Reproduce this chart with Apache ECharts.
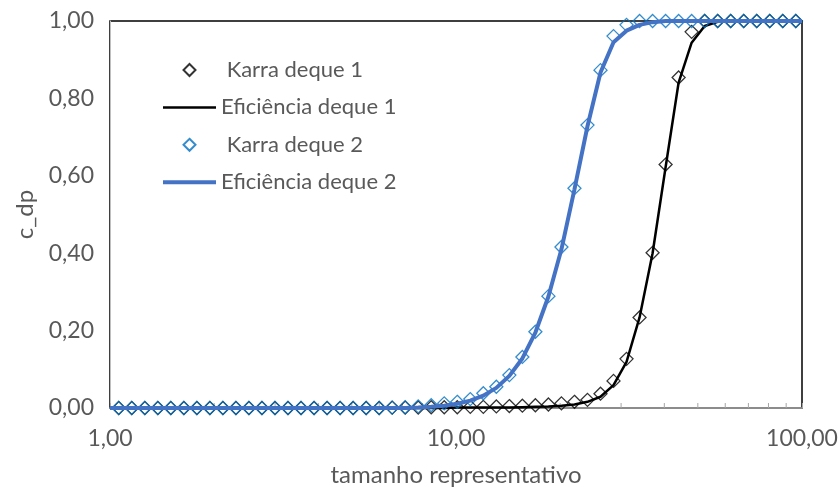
<!DOCTYPE html>
<html>
<head>
<meta charset="utf-8">
<script src="https://cdn.jsdelivr.net/npm/echarts@6/dist/echarts.min.js"></script>
<style>
html,body{margin:0;padding:0;background:#fff;}
#chart{width:838px;height:491px;}
</style>
</head>
<body>
<div id="chart"></div>
<script>
// Sizes (tamanho representativo) for the Karra points
var sizes = [1.060, 1.156, 1.261, 1.375, 1.499, 1.635, 1.783, 1.944, 2.120, 2.312,
  2.521, 2.749, 2.998, 3.269, 3.565, 3.888, 4.240, 4.624, 5.042, 5.499,
  5.997, 6.539, 7.131, 7.777, 8.480, 9.248, 10.085, 10.998, 11.993, 13.079,
  14.263, 15.554, 16.961, 18.497, 20.171, 21.997, 23.988, 26.159, 28.527, 31.109,
  33.925, 36.996, 40.344, 43.996, 47.979, 52.322, 57.057, 62.221, 67.853, 73.994,
  80.692, 87.995, 95.960];

var karra1 = [0,0,0,0,0,0,0,0,0,0,
  0,0,0,0,0,0,0,0,0,0,
  0,0.001,0.001,0.001,0.002,0.002,0.002,0.003,0.003,0.004,
  0.005,0.006,0.007,0.009,0.012,0.016,0.021,0.037,0.070,0.127,
  0.234,0.401,0.629,0.854,0.972,1,1,1,1,1,
  1,1,1];

var karra2 = [0,0,0,0,0,0,0,0,0,0,
  0,0,0,0,0,0,0,0,0,0,
  0,0.001,0.002,0.004,0.007,0.012,0.016,0.023,0.038,0.055,
  0.085,0.132,0.197,0.289,0.416,0.568,0.731,0.873,0.961,0.990,
  1,1,1,1,1,1,1,1,1,1,
  1,1,1];

// Sizes for the efficiency curves (grid plus the axis ends)
var effX = [1.000, 1.060, 1.156, 1.261, 1.375, 1.499, 1.635, 1.783, 1.944, 2.120, 2.312,
  2.521, 2.749, 2.998, 3.269, 3.565, 3.888, 4.240, 4.624, 5.042, 5.499,
  5.997, 6.539, 7.131, 7.777, 8.480, 9.248, 10.085, 10.998, 11.993, 13.079,
  14.263, 15.554, 16.961, 18.497, 20.171, 21.997, 23.988, 26.159, 28.527, 31.109,
  33.925, 36.996, 40.344, 43.996, 47.979, 52.322, 57.057, 62.221, 67.853, 73.994,
  80.692, 87.995, 95.960, 100.000];

var eff1 = [0, 0,0,0,0,0,0,0,0,0,0,
  0,0,0,0,0,0,0,0,0,0,
  0,0,0,0,0,0,0.001,0.001,0.001,0.001,
  0.001,0.002,0.003,0.004,0.006,0.009,0.016,0.029,0.059,0.119,
  0.234,0.400,0.622,0.841,0.944,0.987,0.998,1,1,1,
  1,1,1,1];

var eff2 = [0, 0,0,0,0,0,0,0,0,0,0,
  0,0,0,0,0,0,0,0,0,0,
  0,0,0,0.001,0.003,0.006,0.011,0.019,0.032,0.052,
  0.083,0.128,0.195,0.288,0.410,0.565,0.728,0.867,0.945,0.975,
  0.990,0.997,1,1,1,1,1,1,1,1,
  1,1,1,1];

var minorTicks = [2,3,4,5,6,7,8,9,20,30,40,50,60,70,80,90];

var seriesNames = ['Karra deque 1', 'Eficiência deque 1', 'Karra deque 2', 'Eficiência deque 2'];
var xTitle = 'tamanho representativo';
var yTitle = 'c_dp';

function pairs(xs, ys) { return xs.map(function (x, i) { return [x, ys[i]]; }); }
function fmt(v) { return Number(v).toFixed(2).replace('.', ','); }

var FONT = 'Lato';
var GREY = '#595959';
var DIAMOND = 'path://M6,0L12,6L6,12L0,6Z';

var chart = echarts.init(document.getElementById('chart'), null, {renderer: 'canvas'});
chart.setOption({
  animation: false,
  backgroundColor: '#fff',
  textStyle: {fontFamily: FONT},
  grid: {left: 110, right: 36, top: 21, bottom: 83, outerBoundsMode: 'none', containLabel: false,
    show: true, borderColor: '#000', borderWidth: 1.5, backgroundColor: 'transparent'},
  legend: {
    orient: 'vertical', left: 163, top: 59, padding: 0,
    itemWidth: 53, itemHeight: 12, itemGap: 15.4, symbolKeepAspect: true,
    textStyle: {fontSize: 22, color: GREY, fontFamily: FONT},
    formatter: function (n) { return n.indexOf('Karra') === 0 ? ' ' + n : n; },
    data: [
      {name: seriesNames[0], icon: DIAMOND},
      {name: seriesNames[1], icon: 'path://M0,0H53V2.5H0Z'},
      {name: seriesNames[2], icon: DIAMOND},
      {name: seriesNames[3], icon: 'path://M0,0H53V4H0Z'}
    ]
  },
  xAxis: {
    type: 'log', logBase: 10, min: 1, max: 100,
    name: xTitle, nameLocation: 'middle', nameGap: 55,
    nameTextStyle: {fontSize: 24, color: GREY, fontFamily: FONT},
    axisLine: {show: true, onZero: false, lineStyle: {color: '#A6A6A6', width: 1.5}},
    axisTick: {show: true, inside: true, length: 5, lineStyle: {color: '#A6A6A6'}},
    axisLabel: {fontSize: 23, color: GREY, margin: 19, formatter: fmt, fontFamily: FONT},
    splitLine: {show: false}
  },
  yAxis: {
    type: 'value', min: 0, max: 1, interval: 0.2,
    name: yTitle, nameLocation: 'middle', nameGap: 73, nameRotate: 90,
    nameTextStyle: {fontSize: 24, color: GREY, fontFamily: FONT},
    axisLine: {show: true, lineStyle: {color: '#BFBFBF', width: 1}},
    axisTick: {show: false},
    axisLabel: {fontSize: 23, color: GREY, margin: 16, formatter: fmt, fontFamily: FONT},
    splitLine: {show: false}
  },
  series: [
    {
      type: 'custom', silent: true, z: 1, clip: false,
      data: minorTicks.map(function (v) { return [v]; }),
      renderItem: function (params, api) {
        var p = api.coord([api.value(0), 0]);
        return {type: 'line', shape: {x1: p[0], y1: p[1], x2: p[0], y2: p[1] - 5},
          style: {stroke: '#A6A6A6', lineWidth: 1}};
      },
      encode: {x: 0}
    },
    {
      name: seriesNames[0], type: 'scatter', symbol: 'diamond', symbolSize: 13, clip: false, z: 2,
      itemStyle: {color: 'rgba(255,255,255,0)', borderColor: '#000', borderWidth: 1.3},
      data: pairs(sizes, karra1)
    },
    {
      name: seriesNames[1], type: 'line', showSymbol: false, symbol: 'none', clip: false, z: 3,
      lineStyle: {color: '#000', width: 2.5}, itemStyle: {color: '#000'},
      data: pairs(effX, eff1)
    },
    {
      name: seriesNames[2], type: 'scatter', symbol: 'diamond', symbolSize: 13, clip: false, z: 4,
      itemStyle: {color: 'rgba(255,255,255,0)', borderColor: '#0070C0', borderWidth: 1.3},
      data: pairs(sizes, karra2)
    },
    {
      name: seriesNames[3], type: 'line', showSymbol: false, symbol: 'none', clip: false, z: 5,
      lineStyle: {color: '#4472C4', width: 4}, itemStyle: {color: '#4472C4'},
      data: pairs(effX, eff2)
    }
  ]
});
</script>
</body>
</html>
